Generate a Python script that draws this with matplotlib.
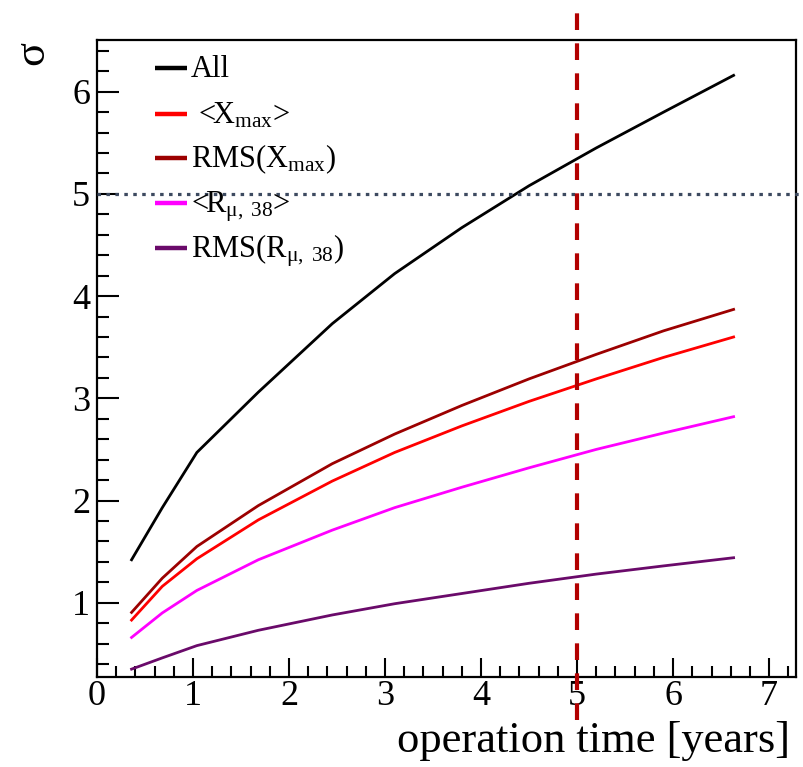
import matplotlib
matplotlib.use('Agg')
import matplotlib.pyplot as plt
from matplotlib.ticker import MultipleLocator

# --- data ---
tempo = [0.36, 0.68, 1.04, 1.68, 2.45, 3.1, 3.8, 4.5, 5.2, 5.9, 6.63]
sig_all = [1.42, 1.93, 2.47, 3.06, 3.73, 4.22, 4.67, 5.08, 5.45, 5.80, 6.16]
sig_rms_xmax = [0.905, 1.24, 1.55, 1.95, 2.36, 2.65, 2.93, 3.19, 3.43, 3.66, 3.87]
sig_mean_xmax = [0.83, 1.16, 1.43, 1.81, 2.19, 2.47, 2.73, 2.97, 3.19, 3.40, 3.60]
sig_mean_rmu = [0.66, 0.90, 1.12, 1.42, 1.71, 1.93, 2.13, 2.32, 2.50, 2.66, 2.82]
sig_rms_rmu = [0.35, 0.46, 0.58, 0.73, 0.88, 0.99, 1.09, 1.19, 1.28, 1.36, 1.44]

nomes = ['All',
         r' <X$_{\mathrm{max}}$>',
         r'RMS(X$_{\mathrm{max}}$)',
         r'<R$_{\mathrm{μ,\ 38}}$>',
         r'RMS(R$_{\mathrm{μ,\ 38}}$)']
series = [sig_all, sig_mean_xmax, sig_rms_xmax, sig_mean_rmu, sig_rms_rmu]
cores = ['black', '#ff0000', '#9c0000', '#ff00ff', '#6a0a6a']

limiar_sigma = 5.0
tempo_ref = 5.0

plt.rcParams['font.family'] = ['Liberation Serif', 'DejaVu Serif']
plt.rcParams['mathtext.fontset'] = 'custom'
plt.rcParams['mathtext.rm'] = 'Liberation Serif'
plt.rcParams['mathtext.it'] = 'Liberation Serif:italic'

fig = plt.figure(figsize=(8.04, 7.67), dpi=100)
ax = fig.add_axes([97 / 804, 90 / 767, 699 / 804, 637 / 767])

# curves
for ys, cor in zip(series, cores):
    ax.plot(tempo, ys, color=cor, lw=2.0)

# reference lines
ax.axhline(limiar_sigma, xmin=0, xmax=1.012, color='#3d4a60', lw=2.3,
           linestyle=(0, (1.1, 1.7)), clip_on=False, zorder=3)
ax.axvline(tempo_ref, ymin=-0.068, ymax=1.065, color='#b20000', lw=3,
           linestyle=(0, (4, 3.2)), clip_on=False, zorder=4)

# legend drawn by hand (ROOT style)
ys_leg = [0.9565, 0.8838, 0.8152, 0.7436, 0.6730]
for nome, cor, yl in zip(nomes, cores, ys_leg):
    ax.plot([0.083, 0.129], [yl, yl], color=cor, lw=3.2, transform=ax.transAxes,
            solid_capstyle='butt')
    ax.text(0.1345, yl - 0.015, nome, transform=ax.transAxes, fontsize=22,
            ha='left', va='baseline')

ax.set_xlim(0, 7.28)
ax.set_ylim(0.273, 6.506)

ax.xaxis.set_major_locator(MultipleLocator(1))
ax.xaxis.set_minor_locator(MultipleLocator(0.2))
ax.yaxis.set_major_locator(MultipleLocator(1))
ax.yaxis.set_minor_locator(MultipleLocator(0.2))

ax.tick_params(axis='both', which='both', direction='in', width=1.5,
               top=False, right=False, labelsize=26)
ax.tick_params(axis='x', which='major', length=14, pad=2)
ax.tick_params(axis='x', which='minor', length=8)
ax.tick_params(axis='y', which='major', length=16, pad=5)
ax.tick_params(axis='y', which='minor', length=8.5)
for sp in ax.spines.values():
    sp.set_linewidth(1.6)

ax.set_xlabel('operation time [years]', fontsize=32)
ax.xaxis.label.set(ha='right', va='baseline')
ax.xaxis.set_label_coords(0.991, -0.118)

ax.set_ylabel('σ', fontsize=32, rotation=90)
ax.yaxis.label.set(ha='center', va='center')
ax.yaxis.set_label_coords(-0.092, 0.980)

fig.savefig('out.png', dpi=100)
